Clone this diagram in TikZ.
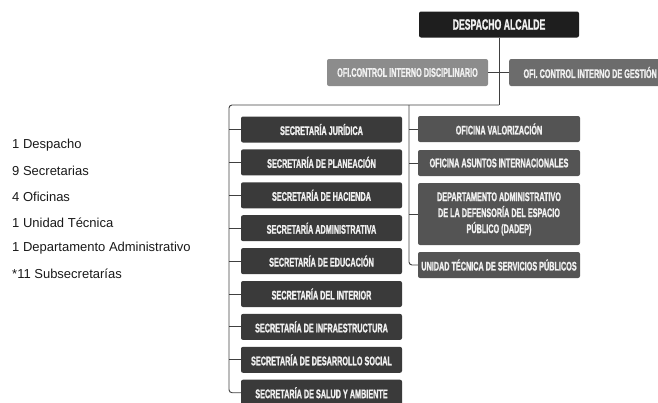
\documentclass[tikz,border=0pt]{standalone}
\usepackage{fontspec}
\setmainfont{Liberation Sans}
\newfontfamily\cond[FakeStretch=0.58,FakeBold=1.2]{Liberation Sans Bold}
\definecolor{negro}{HTML}{1E1E1E}
\definecolor{secgris}{HTML}{3A3A3A}
\definecolor{ofigris}{HTML}{545454}
\definecolor{discgris}{HTML}{8C8C8C}
\definecolor{gestgris}{HTML}{6C6C6C}
\definecolor{lineagris}{HTML}{404040}
\begin{document}
\begin{tikzpicture}[x=1pt,y=-1pt,
  caja/.style={rounded corners=2pt,text=white!94!black,inner sep=0pt,align=center,
    font=\cond\fontsize{12.5}{16}\selectfont,minimum height=26pt},
  secbox/.style={caja,fill=secgris,minimum width=161pt},
  ofibox/.style={caja,fill=ofigris,minimum width=162pt},
  linea/.style={draw=lineagris,line width=0.9pt}]
\useasboundingbox (0,0) rectangle (658,402);
\clip (0,0) rectangle (658,402);
\node[caja,fill=negro,minimum width=160pt,font=\cond\fontsize{15}{16}\selectfont] (alcalde) at (499,24.5) {DESPACHO ALCALDE};
\node[caja,fill=discgris,minimum width=161pt,minimum height=27pt] (disc) at (407.5,72.5) {OFI.CONTROL INTERNO DISCIPLINARIO};
\node[caja,fill=gestgris,minimum width=162pt,minimum height=27pt,anchor=west] (gest) at (509,72.5) {OFI. CONTROL INTERNO DE GESTIÓN};
\foreach \n [count=\i] in {SECRETARÍA JURÍDICA,SECRETARÍA DE PLANEACIÓN,SECRETARÍA DE HACIENDA,SECRETARÍA ADMINISTRATIVA,SECRETARÍA DE EDUCACIÓN,SECRETARÍA DEL INTERIOR,SECRETARÍA DE INFRAESTRUCTURA,SECRETARÍA DE DESARROLLO SOCIAL,SECRETARÍA DE SALUD Y AMBIENTE}
  \node[secbox] (s\i) at (321.5,{129.5+32.9*(\i-1)}) {\n};
\node[ofibox] (o1) at (499,129) {OFICINA VALORIZACIÓN};
\node[ofibox] (o2) at (499,163) {OFICINA ASUNTOS INTERNACIONALES};
\node[ofibox,minimum height=62pt] (o3) at (499,214) {DEPARTAMENTO ADMINISTRATIVO\\DE LA DEFENSORÍA DEL ESPACIO\\PÚBLICO (DADEP)};
\node[ofibox] (o4) at (499,265) {UNIDAD TÉCNICA DE SERVICIOS PÚBLICOS};
\coordinate (hub) at (alcalde.south |- 0,105);
\coordinate (lx) at (229,105);
\coordinate (rx) at (409,105);
\draw[linea] (alcalde) -- (hub);
\draw[linea] (disc) -- (gest);
\draw[linea,rounded corners=3pt] (hub) -- (lx) -- (lx |- s9.west) -- (s9.west);
\foreach \i in {1,...,8} \draw[linea] (lx |- s\i.west) -- (s\i.west);
\draw[linea,rounded corners=3pt] (rx) -- (rx |- o4.west) -- (o4.west);
\foreach \i in {1,2,3} \draw[linea] (rx |- o\i.west) -- (o\i.west);
\foreach \t [count=\i] in {1 Despacho,9 Secretarias,4 Oficinas,1 Unidad Técnica,1 Departamento Administrativo,*11 Subsecretarías}
  \node[anchor=west,inner sep=0pt,text=black!90,font=\fontsize{13}{15}\selectfont] (l\i) at (12,{145+25.8*(\i-1)}) {\t};
\end{tikzpicture}
\end{document}
